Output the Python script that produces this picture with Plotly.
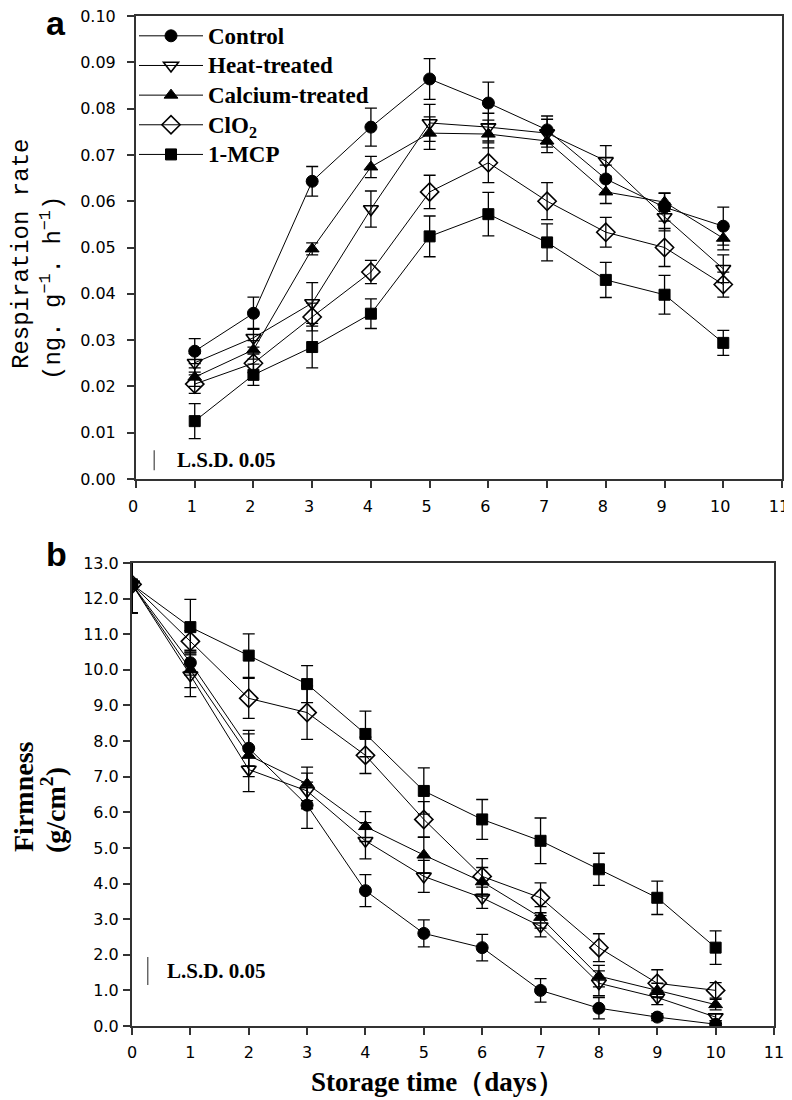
import plotly.graph_objects as go

# ---------------- data ----------------
series_names = ["Control", "Heat-treated", "Calcium-treated", "ClO<sub>2</sub>", "1-MCP"]

days_a = [1, 2, 3, 4, 5, 6, 7, 8, 9, 10]
resp_control = [0.0276, 0.0358, 0.0643, 0.0760, 0.0864, 0.0812, 0.0754, 0.0648, 0.0587, 0.0546]
resp_control_err = [0.0027, 0.0035, 0.0032, 0.0041, 0.0044, 0.0045, 0.0030, 0.0030, 0.0030, 0.0041]
resp_heat = [0.0251, 0.0305, 0.0380, 0.0583, 0.0769, 0.0760, 0.0747, 0.0687, 0.0566, 0.0454]
resp_heat_err = [0.0020, 0.0020, 0.0044, 0.0039, 0.0040, 0.0030, 0.0030, 0.0033, 0.0030, 0.0030]
resp_calcium = [0.0220, 0.0279, 0.0497, 0.0674, 0.0747, 0.0745, 0.0730, 0.0620, 0.0598, 0.0520]
resp_calcium_err = [0.0020, 0.0020, 0.0013, 0.0023, 0.0035, 0.0030, 0.0025, 0.0025, 0.0020, 0.0025]
resp_clo2 = [0.0205, 0.0250, 0.0350, 0.0447, 0.0620, 0.0683, 0.0600, 0.0533, 0.0500, 0.0420]
resp_clo2_err = [0.0020, 0.0020, 0.0030, 0.0025, 0.0036, 0.0043, 0.0040, 0.0032, 0.0041, 0.0027]
resp_mcp = [0.0125, 0.0225, 0.0285, 0.0357, 0.0524, 0.0572, 0.0511, 0.0430, 0.0398, 0.0294]
resp_mcp_err = [0.0038, 0.0023, 0.0045, 0.0032, 0.0044, 0.0047, 0.0040, 0.0038, 0.0042, 0.0027]

days_b = [0, 1, 2, 3, 4, 5, 6, 7, 8, 9, 10]
firm_control = [12.4, 10.2, 7.8, 6.2, 3.8, 2.6, 2.2, 1.0, 0.5, 0.25, 0.05]
firm_control_err = [0.8, 0.35, 0.5, 0.65, 0.45, 0.38, 0.37, 0.33, 0.3, 0.1, 0.1]
firm_heat = [12.4, 9.85, 7.2, 6.6, 5.2, 4.2, 3.6, 2.8, 1.2, 0.8, 0.25]
firm_heat_err = [0.8, 0.6, 0.62, 0.5, 0.51, 0.45, 0.3, 0.3, 0.35, 0.2, 0.1]
firm_calcium = [12.4, 10.0, 7.6, 6.8, 5.6, 4.8, 4.05, 3.05, 1.4, 1.0, 0.6]
firm_calcium_err = [0.8, 0.5, 0.6, 0.47, 0.42, 0.5, 0.4, 0.3, 0.3, 0.2, 0.15]
firm_clo2 = [12.4, 10.8, 9.2, 8.8, 7.6, 5.8, 4.2, 3.6, 2.2, 1.2, 1.0]
firm_clo2_err = [0.8, 0.3, 0.56, 0.75, 0.51, 0.5, 0.5, 0.42, 0.39, 0.38, 0.22]
firm_mcp = [12.4, 11.2, 10.4, 9.6, 8.2, 6.6, 5.8, 5.2, 4.4, 3.6, 2.2]
firm_mcp_err = [0.8, 0.78, 0.61, 0.52, 0.64, 0.65, 0.56, 0.64, 0.45, 0.47, 0.47]

x_ticks = list(range(0, 12))
lsd_a = (0.0019, 0.0062)
lsd_b = (1.15, 1.94)

# ---------------- geometry (page body has an 8px margin) ----------------
OFF = 8
W, H = 792 - OFF, 1100 - OFF
def px(x):
    return (x - OFF) / W
def py(y):
    return 1 - (y - OFF) / H

marker_styles = [
    dict(symbol="circle", size=12, color="black", line=dict(color="black", width=1)),
    dict(symbol="triangle-down-open", size=13, color="black", line=dict(color="black", width=1.6)),
    dict(symbol="triangle-up", size=12, color="black", line=dict(color="black", width=1)),
    dict(symbol="diamond-open", size=14, color="black", line=dict(color="black", width=1.6)),
    dict(symbol="square", size=11, color="black", line=dict(color="black", width=1)),
]

resp_vals = [resp_control, resp_heat, resp_calcium, resp_clo2, resp_mcp]
resp_errs = [resp_control_err, resp_heat_err, resp_calcium_err, resp_clo2_err, resp_mcp_err]
firm_vals = [firm_control, firm_heat, firm_calcium, firm_clo2, firm_mcp]
firm_errs = [firm_control_err, firm_heat_err, firm_calcium_err, firm_clo2_err, firm_mcp_err]

fig = go.Figure()

for i, name in enumerate(series_names):
    fig.add_trace(go.Scatter(
        x=days_a, y=resp_vals[i], name='<span style="font-size:23px">' + name + '</span>',
        mode="lines+markers",
        line=dict(color="black", width=1), marker=marker_styles[i],
        error_y=dict(type="data", array=resp_errs[i], visible=True, color="black", thickness=1.3, width=6),
        xaxis="x", yaxis="y", showlegend=True,
    ))
for i, name in enumerate(series_names):
    fig.add_trace(go.Scatter(
        x=days_b, y=firm_vals[i], name=name, mode="lines+markers",
        line=dict(color="black", width=1), marker=marker_styles[i],
        error_y=dict(type="data", array=firm_errs[i], visible=True, color="black", thickness=1.3, width=6),
        xaxis="x2", yaxis="y2", showlegend=False,
    ))

tick_font = dict(family="DejaVu Sans", size=16, color="black")
axis_common = dict(showline=True, linecolor="#333333", linewidth=2, mirror=True,
                   ticks="outside", ticklen=7, tickwidth=1.5, tickcolor="#333333",
                   showgrid=False, zeroline=False, tickfont=tick_font,
                   ticklabeloverflow="allow")

fig.update_layout(
    width=W, height=H,
    margin=dict(l=0, r=0, t=0, b=0, autoexpand=False),
    paper_bgcolor="white", plot_bgcolor="white",
    xaxis=dict(domain=[px(136), px(782)], range=[0, 11], tickvals=x_ticks,
               anchor="y", ticklabelstandoff=5, ticklabelshift=-3, **axis_common),
    yaxis=dict(domain=[py(479), py(16)], range=[0, 0.10], dtick=0.01, tickformat=".2f",
               anchor="x", ticklabelstandoff=8, **axis_common),
    xaxis2=dict(domain=[px(132), px(774)], range=[0, 11], tickvals=x_ticks,
                anchor="y2", ticklabelstandoff=4, **axis_common),
    yaxis2=dict(domain=[py(1026), py(563)], range=[0, 13], dtick=1, tickformat=".1f",
                anchor="x2", ticklabelstandoff=1, **axis_common),
    legend=dict(x=px(134), y=py(16), xanchor="left", yanchor="top",
                bgcolor="rgba(0,0,0,0)",
                font=dict(family="Liberation Serif", size=20.5, color="black", weight="bold"),
                itemwidth=64, tracegroupgap=0),
    showlegend=True,
)

serif_b = dict(family="Liberation Serif", color="black")
def note(text, x, y, font, angle=0, **kw):
    d = dict(text=text, x=x, y=y, xref=kw.pop("xref", "paper"), yref=kw.pop("yref", "paper"),
             textangle=angle, showarrow=False, font=font,
             xanchor=kw.pop("xanchor", "center"), yanchor=kw.pop("yanchor", "middle"))
    d.update(kw)
    return d

annotations = [
    note("<b>a</b>", px(56), py(23), dict(family="Liberation Sans", size=34, color="black")),
    note("<b>b</b>", px(56), py(554), dict(family="Liberation Sans", size=34, color="black")),
    note("Respiration rate", px(22), py(254), dict(family="Liberation Mono", size=24, color="black"), -90),
    note("(ng. g<sup>−1</sup>. h<sup>−1</sup>)", px(51), py(288),
         dict(family="Liberation Mono", size=24, color="black"), -90),
    note("<b>Firmness</b>", px(23), py(797), dict(size=28, **serif_b), -90),
    note("<b>(g/cm<sup>2</sup>)</b>", px(53), py(810), dict(size=28, **serif_b), -90),
    note("<b>Storage time（days）</b>", px(437), py(1082), dict(size=27, **serif_b)),
    note("<b>L.S.D. 0.05</b>", 0.66, sum(lsd_a) / 2, dict(size=21, **serif_b),
         xref="x", yref="y", xanchor="left"),
    note("<b>L.S.D. 0.05</b>", 0.57, sum(lsd_b) / 2, dict(size=21, **serif_b),
         xref="x2", yref="y2", xanchor="left"),
]
fig.update_layout(annotations=annotations)

fig.add_shape(type="line", xref="x", yref="y", x0=0.31, x1=0.31, y0=lsd_a[0], y1=lsd_a[1],
              line=dict(color="#555555", width=1.3))
fig.add_shape(type="line", xref="x2", yref="y2", x0=0.27, x1=0.27, y0=lsd_b[0], y1=lsd_b[1],
              line=dict(color="#555555", width=1.3))

fig.write_html("out.html")
